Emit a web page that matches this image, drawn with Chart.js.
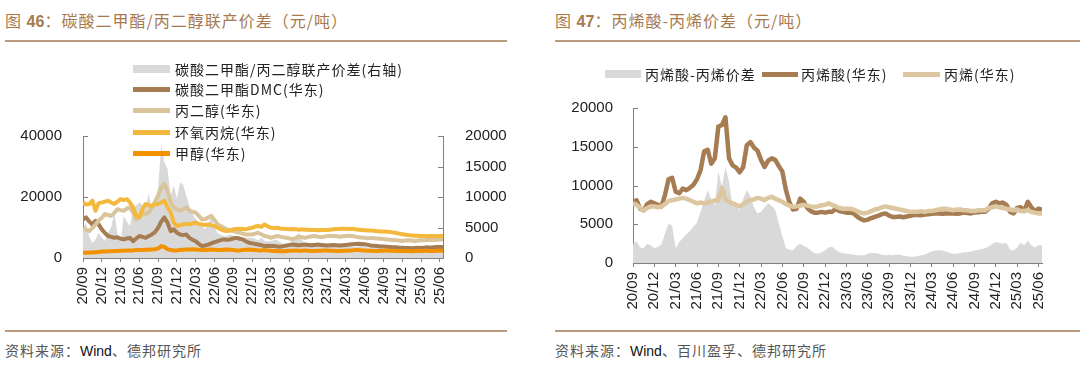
<!DOCTYPE html>
<html>
<head>
<meta charset="utf-8">
<script src="https://cdn.jsdelivr.net/npm/chart.js@4.4.1/dist/chart.umd.min.js"></script>
<style>
body { margin: 0; background: #fff; }
#page { position: relative; width: 1080px; height: 376px; overflow: hidden; font-family: "Noto Sans CJK SC", sans-serif; }
.title { position: absolute; top: 8px; font-size: 16px; line-height: 24px; color: #a67a4e; letter-spacing: 1px; white-space: nowrap; }
.title b { font-family: "Liberation Sans", Arial, sans-serif; font-weight: bold; letter-spacing: 0; }
.rule { position: absolute; height: 2px; background: #b99a7c; }
.src { position: absolute; top: 339px; font-size: 14px; line-height: 22px; color: #555; letter-spacing: 1px; white-space: nowrap; }
.src span { font-family: "Liberation Sans", Arial, sans-serif; color: #111; letter-spacing: 0; }
canvas { position: absolute; top: 0; }
.sym { position: absolute; }
.lg { position: absolute; font-size: 14px; line-height: 20px; color: #222; letter-spacing: 1px; white-space: nowrap; }
</style>
</head>
<body>
<div id="page">
  <div class="title" style="left:5px">图 <b>46</b>：碳酸二甲酯/丙二醇联产价差（元/吨）</div>
  <div class="rule" style="left:5px;width:502px;top:40px"></div>
  <div class="rule" style="left:5px;width:502px;top:330px"></div>
  <div class="src" style="left:5px">资料来源：<span>Wind</span>、德邦研究所</div>

  <div class="title" style="left:555px">图 <b>47</b>：丙烯酸-丙烯价差（元/吨）</div>
  <div class="rule" style="left:555px;width:525px;top:40px"></div>
  <div class="rule" style="left:555px;width:525px;top:330px"></div>
  <div class="src" style="left:555px">资料来源：<span>Wind</span>、百川盈孚、德邦研究所</div>

  <canvas id="left" width="540" height="330" style="left:0"></canvas>
  <canvas id="right" width="540" height="330" style="left:540px"></canvas>

  <div class="sym" style="left:133px;top:65px;width:37px;height:8px;background:#d9d9d9"></div>
  <div class="lg" style="left:175px;top:59px">碳酸二甲酯/丙二醇联产价差(右轴)</div>
  <div class="sym" style="left:133px;top:87px;width:37px;height:5px;background:#a67c53"></div>
  <div class="lg" style="left:175px;top:79px">碳酸二甲酯DMC(华东)</div>
  <div class="sym" style="left:133px;top:108px;width:37px;height:5px;background:#d9c49c"></div>
  <div class="lg" style="left:175px;top:100px">丙二醇(华东)</div>
  <div class="sym" style="left:133px;top:130px;width:37px;height:5px;background:#f4b93c"></div>
  <div class="lg" style="left:175px;top:122px">环氧丙烷(华东)</div>
  <div class="sym" style="left:133px;top:151px;width:37px;height:5px;background:#f39200"></div>
  <div class="lg" style="left:175px;top:143px">甲醇(华东)</div>

  <div class="sym" style="left:605px;top:70px;width:36px;height:8px;background:#d9d9d9"></div>
  <div class="lg" style="left:645px;top:64px">丙烯酸-丙烯价差</div>
  <div class="sym" style="left:762px;top:72px;width:36px;height:5px;background:#a67c53"></div>
  <div class="lg" style="left:801px;top:64px">丙烯酸(华东)</div>
  <div class="sym" style="left:903px;top:72px;width:37px;height:5px;background:#dcc7a0"></div>
  <div class="lg" style="left:944px;top:64px">丙烯(华东)</div>
</div>

<script>
// quarterly tick labels, data is half-monthly starting 2020/09
const tickLabels = ['20/09','20/12','21/03','21/06','21/09','21/12','22/03','22/06','22/09','22/12',
  '23/03','23/06','23/09','23/12','24/03','24/06','24/09','24/12','25/03','25/06'];

// 图46 (left axis: prices, right axis: spread)
const dmcSpread = [
  4700, 5800, 3500, 2500, 3000, 4100, 3300, 2800, 4200, 5000,
  7500, 4000, 2500, 6900, 6000, 5200, 8000, 8600, 9100, 8700,
  8300, 10600, 7500, 9000, 11500, 18500, 15700, 14600, 10200, 11900,
  9700, 12400, 12000, 10200, 8500, 7200, 6400, 5800, 5200, 4700,
  5600, 6900, 5200, 4100, 3800, 3600, 3600, 3900, 3700, 3600,
  3600, 3400, 3300, 3300, 3300, 3100, 2900, 3300, 2800, 2700,
  2800, 2900, 3000, 2600, 2200, 2000, 2400, 3000, 3700, 4100,
  3000, 2200, 2000, 2100, 2300, 2200, 2000, 2100, 2400, 2300,
  2100, 2000, 1900, 2000, 2200, 2100, 1900, 1800, 1900, 2000,
  1800, 1700, 1800, 1900, 1700, 1600, 1500, 1600, 1500, 1400,
  1500, 1600, 1500, 1400, 1300, 1400, 1500, 1600, 1500, 1600,
  1700, 1600, 1700, 1600, 1700, 1700
];
const dmcPrice = [
  12700, 13300, 12000, 11000, 12200, 11000, 9400, 8200, 7200, 6900,
  6600, 6800, 6300, 6100, 6400, 6600, 5500, 6400, 7200, 6900,
  6600, 7200, 7700, 8500, 9900, 12000, 13300, 11600, 8800, 9400,
  8300, 7700, 7500, 7700, 6600, 6000, 5500, 4600, 3900, 4100,
  4400, 4800, 5200, 5500, 5900, 6100, 6000, 6100, 6400, 6600,
  6300, 6100, 5500, 5000, 4800, 4600, 4400, 4200, 3900, 4000,
  3900, 3900, 3800, 3700, 3900, 4100, 4300, 4400, 4300, 4200,
  4300, 4400, 4300, 4200, 4300, 4400, 4300, 4200, 4100, 4200,
  4300, 4200, 4100, 4200, 4300, 4400, 4500, 4600, 4700, 4600,
  4500, 4300, 4100, 4000, 3900, 3800, 3800, 3700, 3600, 3500,
  3500, 3400, 3400, 3300, 3300, 3200, 3300, 3400, 3300, 3400,
  3500, 3400, 3500, 3600, 3600, 3600
];
const pgPrice = [
  9900, 9200, 8800, 9800, 11000, 12300, 13200, 14400, 14100, 13800,
  14800, 16000, 15700, 15500, 16200, 16600, 14900, 12700, 13300, 14400,
  14600, 14900, 16500, 18500, 20400, 23000, 24300, 22000, 18200, 16600,
  16000, 15500, 16000, 16600, 15500, 15200, 14900, 13800, 12700, 12700,
  13300, 13800, 12500, 11000, 10500, 9900, 9400, 9100, 8800, 8500,
  8300, 8000, 7700, 7700, 7700, 8000, 8300, 7800, 7200, 7000,
  6600, 6900, 7200, 7000, 6800, 6600, 6400, 6200, 6500, 7000,
  6800, 6600, 6900, 7100, 7200, 7000, 6900, 7000, 7200, 7300,
  7200, 7100, 7000, 7100, 7200, 7300, 7200, 7000, 6800, 6700,
  6600, 6500, 6600, 6500, 6400, 6300, 6200, 6100, 6000, 5900,
  5800, 5700, 5600, 5700, 5800, 5700, 5600, 5700, 5800, 5800,
  5900, 6000, 5900, 6000, 6100, 6100
];
const poPrice = [
  18200, 17500, 17700, 18800, 15500, 18000, 18200, 18500, 18800, 18200,
  17700, 18500, 19300, 19000, 19300, 18200, 16600, 13800, 13300, 16000,
  17700, 17300, 17100, 17500, 17700, 18200, 18800, 16600, 14900, 11600,
  10500, 10800, 11000, 11200, 11000, 11300, 11600, 11200, 11000, 10800,
  11000, 10700, 10500, 10000, 9400, 9000, 8800, 9000, 9400, 9500,
  9600, 9500, 9400, 9700, 9900, 10300, 10500, 10200, 11000, 10400,
  9900, 9800, 9900, 9700, 9600, 9500, 9400, 9500, 9400, 9300,
  9400, 9300, 9300, 9200, 9200, 9100, 9200, 9200, 9200, 9300,
  9400, 9500, 9500, 9600, 9600, 9500, 9600, 9400, 9300, 9200,
  9100, 9000, 9000, 8900, 8800, 8700, 8700, 8600, 8500, 8400,
  8200, 8000, 7800, 7600, 7500, 7400, 7300, 7300, 7200, 7200,
  7100, 7200, 7200, 7100, 7200, 7200
];
const methanolPrice = [
  1700, 1700, 1800, 1800, 1900, 2000, 2100, 2100, 2200, 2200,
  2300, 2300, 2400, 2400, 2500, 2500, 2500, 2600, 2600, 2600,
  2700, 2700, 2800, 2900, 3100, 3900, 3600, 2900, 2600, 2500,
  2500, 2600, 2700, 2800, 2800, 2900, 2800, 2700, 2600, 2600,
  2700, 2800, 2700, 2600, 2600, 2700, 2800, 2700, 2600, 2500,
  2500, 2600, 2700, 2800, 2700, 2600, 2500, 2500, 2600, 2500,
  2400, 2300, 2300, 2200, 2200, 2300, 2400, 2400, 2500, 2400,
  2400, 2500, 2400, 2300, 2300, 2400, 2400, 2500, 2500, 2400,
  2400, 2300, 2300, 2400, 2400, 2500, 2500, 2600, 2600, 2500,
  2500, 2400, 2400, 2300, 2300, 2400, 2400, 2500, 2400, 2400,
  2300, 2300, 2400, 2300, 2300, 2200, 2300, 2300, 2300, 2400,
  2400, 2300, 2300, 2400, 2400, 2400
];

// 图47
const acrylicSpread = [
  2500, 2800, 2000, 1900, 2500, 2300, 1900, 2100, 2400, 3800,
  5100, 4800, 1900, 2700, 3200, 3700, 4100, 4700, 5200, 6600,
  8000, 9400, 8300, 7500, 11800, 9850, 12400, 10500, 7300, 7300,
  6800, 8300, 9400, 8600, 7200, 6400, 6600, 7200, 7700, 7400,
  6800, 5100, 3500, 1900, 1700, 1650, 2200, 2500, 2200, 2000,
  1600, 1300, 1200, 1400, 1600, 2000, 2100, 1700, 1400, 1300,
  1200, 1150, 1100, 1000, 1000, 1000, 1200, 1300, 1300, 1200,
  1100, 1000, 1050, 1000, 1100, 1050, 950, 900, 800, 800,
  900, 1000, 1100, 1300, 1500, 1600, 1650, 1600, 1500, 1300,
  1200, 1200, 1300, 1400, 1400, 1500, 1600, 1700, 1800, 1900,
  2100, 2500, 2700, 2600, 2500, 2600, 1700, 1600, 2000, 2600,
  2300, 2900, 2300, 2000, 2300, 2300
];
const acrylicPrice = [
  7900, 8100, 7000, 6800, 7600, 7900, 7700, 7500, 7300, 8800,
  10800, 11000, 9200, 9000, 9600, 9400, 9700, 10100, 10800, 12000,
  14400, 14600, 12800, 13500, 17600, 17800, 18800, 13500, 12600, 12300,
  11700, 12400, 15200, 15600, 14900, 14500, 13300, 12400, 13200, 13500,
  13300, 12500, 11800, 9400, 7800, 6900, 7000, 8300, 7900, 7100,
  6700, 6500, 6500, 6600, 6500, 6600, 6600, 7000, 6700, 6600,
  6500, 6500, 6400, 6000, 5700, 5500, 5600, 5800, 5950, 6100,
  6300, 6400, 6100, 5950, 5950, 6000, 5900, 6000, 6100, 6200,
  6200, 6150, 6250, 6300, 6350, 6400, 6400, 6350, 6400, 6400,
  6400, 6350, 6400, 6500, 6450, 6400, 6500, 6550, 6600, 6600,
  7000, 7700, 7900, 7700, 7800, 7500, 6600, 6400, 7100, 7200,
  6700, 7900, 7200, 6700, 7000, 6900
];
const propylenePrice = [
  7700, 7500, 7100, 6800, 7100, 7300, 7300, 7200, 7300, 7600,
  8000, 8100, 8200, 8300, 8400, 8300, 8100, 7900, 7700, 7800,
  7700, 7800, 7900, 8100, 8100, 9700, 8200, 7900, 7700, 7500,
  7300, 7600, 7900, 8100, 8200, 8400, 8300, 8100, 8400, 8550,
  8300, 8100, 7900, 7600, 7400, 7250, 7300, 7400, 7500, 7400,
  7300, 7250, 7300, 7450, 7500, 7700, 7500, 7300, 7100, 7000,
  7000, 7000, 6900, 6700, 6500, 6400, 6500, 6700, 6900, 7000,
  7200, 7300, 7200, 7100, 7000, 6900, 6800, 6700, 6600, 6600,
  6600, 6700, 6600, 6700, 6700, 6800, 6900, 7000, 7000, 6900,
  6800, 6900, 6900, 6800, 6800, 6700, 6700, 6800, 6800, 6800,
  7100, 7200, 7300, 7200, 7100, 7000, 6900, 6800, 6900, 6700,
  6700, 6800, 6600, 6500, 6400, 6400
];

const months = dmcPrice.map((_, i) => i / 2);
const pts = arr => arr.map((v, i) => ({ x: months[i], y: v }));

const tickFont = { family: 'Liberation Sans, Arial, sans-serif', size: 15 };
const axisColor = '#808080';

// short ticks pointing into the plot, like the original
const innerTicks = {
  id: 'innerTicks',
  beforeDatasetsDraw(chart) {
    const ctx = chart.ctx;
    ctx.save();
    ctx.strokeStyle = axisColor;
    ctx.lineWidth = 1;
    Object.values(chart.scales).forEach(s => {
      if (s.axis !== 'y') return;
      const left = s.position === 'left';
      const x0 = left ? s.right : s.left;
      s.ticks.forEach(t => {
        const y = Math.round(s.getPixelForValue(t.value)) + 0.5;
        ctx.beginPath();
        ctx.moveTo(x0, y);
        ctx.lineTo(x0 + (left ? 5 : -5), y);
        ctx.stroke();
      });
    });
    ctx.restore();
  }
};

function xAxis(height) {
  return {
    type: 'linear', min: 0, max: 57.5,
    afterBuildTicks: a => { a.ticks = tickLabels.map((_, k) => ({ value: k * 3 })); },
    afterFit: s => { s.height = height; },
    ticks: { font: tickFont, color: '#222', minRotation: 90, maxRotation: 90, padding: 5, autoSkip: false,
      callback: v => tickLabels[Math.round(v / 3)] },
    grid: { drawOnChartArea: false, drawTicks: true, tickLength: 4, color: axisColor },
    border: { color: axisColor }
  };
}

function yAxis(pos, max, step, width, pad) {
  return {
    position: pos, min: 0, max, afterFit: s => { s.width = width; },
    ticks: { stepSize: step, font: tickFont, color: '#222', padding: pad, callback: v => String(v) },
    grid: { display: false }, border: { color: axisColor }
  };
}

function line(label, data, color, width, order, axis) {
  return { label, data: pts(data), borderColor: color, borderWidth: width, pointRadius: 0,
    fill: false, tension: 0, order, yAxisID: axis, borderJoinStyle: 'round' };
}

new Chart(document.getElementById('left'), {
  type: 'line',
  data: {
    datasets: [
      { label: '碳酸二甲酯/丙二醇联产价差(右轴)', data: pts(dmcSpread), yAxisID: 'y2', order: 5,
        borderWidth: 0, pointRadius: 0, fill: 'origin', backgroundColor: '#d9d9d9', tension: 0 },
      line('碳酸二甲酯DMC(华东)', dmcPrice, '#a67c53', 4, 4, 'y'),
      line('丙二醇(华东)', pgPrice, '#d9c49c', 4, 3, 'y'),
      line('环氧丙烷(华东)', poPrice, '#f4b93c', 4, 2, 'y'),
      line('甲醇(华东)', methanolPrice, '#f39200', 4, 1, 'y')
    ]
  },
  options: {
    responsive: false, animation: false,
    layout: { padding: { left: 0, right: 0, top: 136, bottom: 0 } },
    plugins: { legend: { display: false }, tooltip: { enabled: false } },
    scales: {
      x: xAxis(72),
      y: yAxis('left', 40000, 20000, 83, 13),
      y2: yAxis('right', 20000, 5000, 97, 14)
    }
  },
  plugins: [innerTicks]
});

new Chart(document.getElementById('right'), {
  type: 'line',
  data: {
    datasets: [
      { label: '丙烯酸-丙烯价差', data: pts(acrylicSpread), yAxisID: 'y', order: 3,
        borderWidth: 0, pointRadius: 0, fill: 'origin', backgroundColor: '#d9d9d9', tension: 0 },
      line('丙烯酸(华东)', acrylicPrice, '#a67c53', 4.5, 2, 'y'),
      line('丙烯(华东)', propylenePrice, '#dcc7a0', 4.5, 1, 'y')
    ]
  },
  options: {
    responsive: false, animation: false,
    layout: { padding: { left: 0, right: 38, top: 108, bottom: 0 } },
    plugins: { legend: { display: false }, tooltip: { enabled: false } },
    scales: {
      x: xAxis(67),
      y: yAxis('left', 20000, 5000, 93, 12)
    }
  },
  plugins: [innerTicks]
});
</script>
</body>
</html>
